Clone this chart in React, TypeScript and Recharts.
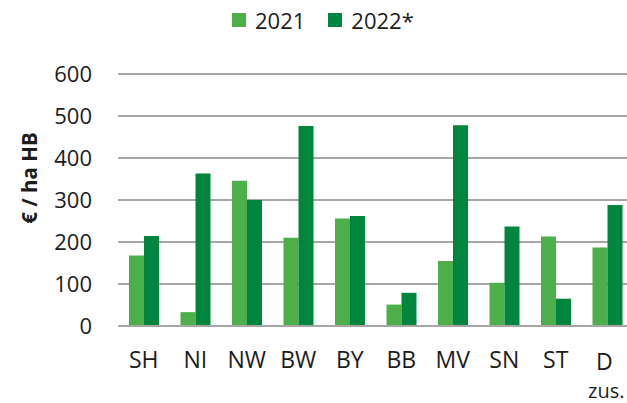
import React from 'react';
import { BarChart, Bar, XAxis, YAxis, CartesianGrid, Legend } from 'recharts';

const categories = ['SH', 'NI', 'NW', 'BW', 'BY', 'BB', 'MV', 'SN', 'ST', 'D\nzus.'];
const values2021 = [168, 33, 346, 210, 256, 51, 155, 103, 213, 187];
const values2022 = [214, 363, 300, 476, 262, 79, 478, 237, 65, 288];
const yTicks = [0, 100, 200, 300, 400, 500, 600];

const data = categories.map((cat, i) => ({ cat, v2021: values2021[i], v2022: values2022[i] }));

const FONT = '"Open Sans", "Noto Sans", sans-serif';
const TEXT = '#1c1c1c';
const GRID = '#a6a6a6';
const LIGHT = '#4caf49';
const DARK = '#00853f';

const XTick = (props: any) => {
  const { x, y, payload } = props;
  const lines = String(payload.value).split('\n');
  if (lines.length === 1) {
    return (
      <text x={x} y={y} dy={42} textAnchor="middle" fontFamily={FONT} fontSize={23} fill={TEXT}>
        {lines[0]}
      </text>
    );
  }
  return (
    <g>
      <text x={x - 3} y={y} dy={44} textAnchor="middle" fontFamily={FONT} fontSize={23} fill={TEXT}>
        {lines[0]}
      </text>
      <text x={x - 1} y={y} dy={72} textAnchor="middle" fontFamily={FONT} fontSize={20} fill={TEXT}>
        {lines[1]}
      </text>
    </g>
  );
};

const LegendContent = (props: any) => {
  const { payload } = props;
  return (
    <div style={{ display: 'flex', alignItems: 'center', height: 22, lineHeight: '22px', fontFamily: FONT, fontSize: 22, color: TEXT, whiteSpace: 'nowrap' }}>
      {(payload || []).map((entry: any, i: number) => (
        <div key={i} style={{ display: 'flex', alignItems: 'center', marginLeft: i === 0 ? 0 : 23 }}>
          <span style={{ display: 'inline-block', width: 14, height: 14, background: entry.color, marginRight: 9 }} />
          <span>{entry.value}</span>
        </div>
      ))}
    </div>
  );
};

const YTitle = (props: any) => {
  const { viewBox } = props;
  const cx = viewBox.x + 37;
  const cy = viewBox.y + viewBox.height / 2 - 22;
  return (
    <text x={cx} y={cy} textAnchor="middle" transform={`rotate(-90, ${cx}, ${cy})`} fontFamily={FONT} fontSize={20.5} fontWeight="bold" fill={TEXT}>
      € / ha HB
    </text>
  );
};

export default function App() {
  return (
    <div style={{ position: 'absolute', left: 0, top: 0, width: 627, height: 403, overflow: 'hidden', background: '#fff' }}>
      <BarChart
        width={640}
        height={403}
        data={data}
        margin={{ top: 74, right: 7, bottom: 0, left: 0 }}
        barGap={0}
        barSize={15}
      >
        <CartesianGrid vertical={false} stroke={GRID} strokeWidth={2} />
        <XAxis
          dataKey="cat"
          interval={0}
          height={77}
          tickLine={false}
          tickSize={0}
          tickMargin={0}
          axisLine={{ stroke: GRID, strokeWidth: 2 }}
          tick={<XTick />}
        />
        <YAxis
          width={118}
          domain={[0, 600]}
          ticks={yTicks}
          axisLine={false}
          tickLine={false}
          tickSize={0}
          tickMargin={26}
          tick={{ fontFamily: FONT, fontSize: 22, fill: TEXT }}
          label={<YTitle />}
        />
        <Legend
          layout="horizontal"
          verticalAlign="middle"
          align="center"
          content={<LegendContent />}
          wrapperStyle={{ top: 9, left: 232, width: 'auto', height: 22 }}
        />
        <Bar dataKey="v2021" name="2021" fill={LIGHT} isAnimationActive={false} />
        <Bar dataKey="v2022" name="2022*" fill={DARK} isAnimationActive={false} />
      </BarChart>
    </div>
  );
}
